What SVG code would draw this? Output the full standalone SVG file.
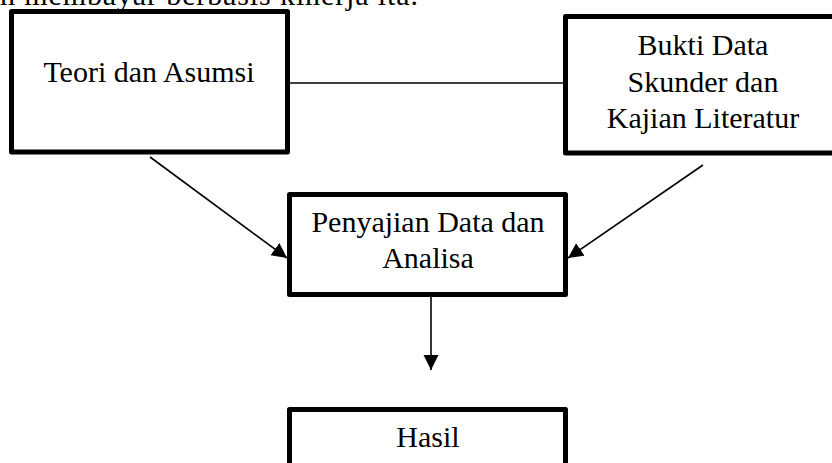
<svg xmlns="http://www.w3.org/2000/svg" width="832" height="463" viewBox="0 0 832 463">
<defs>
<style>
.box{fill:#fff;stroke:#000;stroke-width:5;stroke-linejoin:round}
.t{font-family:"Liberation Serif","Times New Roman",serif;font-size:30px;fill:#000;text-anchor:middle}
.c{stroke:#000;stroke-width:1.6;fill:none}
</style>
<marker id="ah" markerUnits="userSpaceOnUse" markerWidth="16" markerHeight="16" viewBox="0 0 16 16" refX="15" refY="8" orient="auto">
<path d="M0,0.5 L15,8 L0,15.5 Z" fill="#000"/>
</marker>
</defs>
<rect width="832" height="463" fill="#fff"/>
<text class="t" x="0" y="5" style="text-anchor:start" textLength="418">n membayar berbasis kinerja ita.</text>
<g id="connectors">
<line class="c" x1="290" y1="83" x2="563" y2="83"/>
<line class="c" x1="150" y1="157" x2="287" y2="258" marker-end="url(#ah)"/>
<line class="c" x1="703" y1="165" x2="568" y2="258" marker-end="url(#ah)"/>
<line class="c" x1="431" y1="297" x2="431" y2="370" marker-end="url(#ah)"/>
</g>
<g id="teori">
<rect class="box" x="11.5" y="11.5" width="276" height="140.5"/>
<text class="t" x="149" y="82">Teori dan Asumsi</text>
</g>
<g id="bukti">
<rect class="box" x="565.5" y="16.5" width="276" height="136.5"/>
<text class="t" x="703" y="55">Bukti Data</text>
<text class="t" x="703" y="92">Skunder dan</text>
<text class="t" x="703" y="128">Kajian Literatur</text>
</g>
<g id="penyajian">
<rect class="box" x="289.5" y="194.5" width="276" height="100"/>
<text class="t" x="428" y="232">Penyajian Data dan</text>
<text class="t" x="428" y="268">Analisa</text>
</g>
<g id="hasil">
<rect class="box" x="289.5" y="409.5" width="276" height="80"/>
<text class="t" x="428" y="447">Hasil</text>
</g>
</svg>
